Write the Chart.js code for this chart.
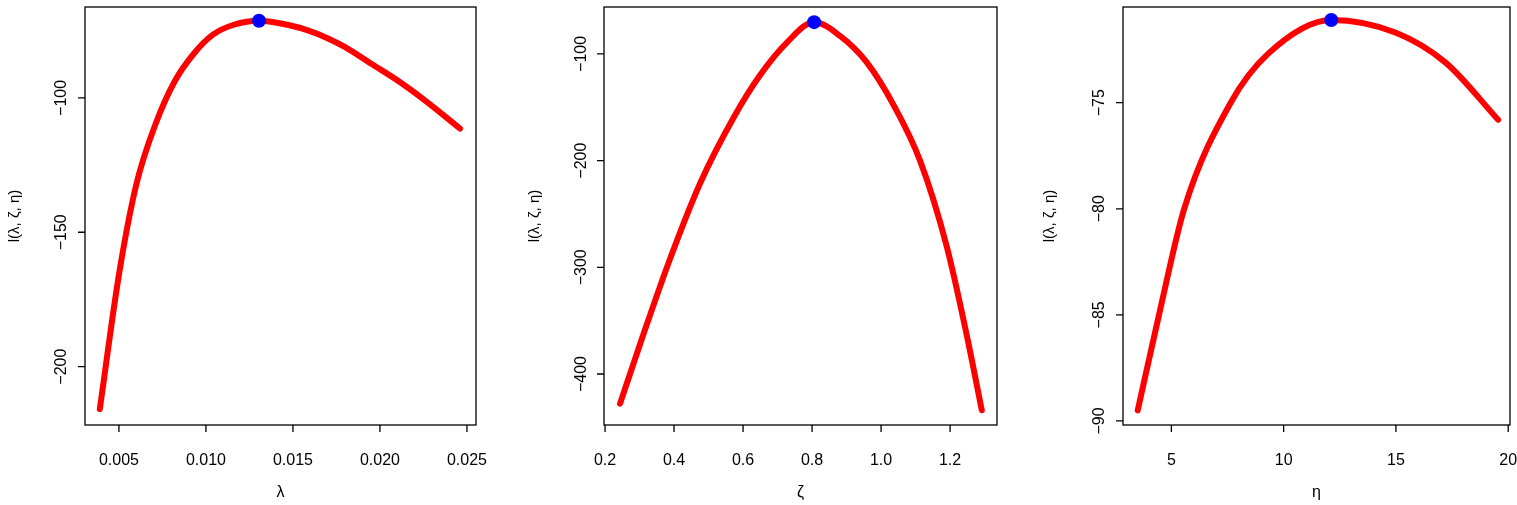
<!DOCTYPE html>
<html><head><script src="https://cdn.jsdelivr.net/npm/chart.js@4"></script>
<style>body{margin:0;background:#fff}canvas{position:absolute;top:0}</style></head>
<body>
<div style="position:absolute;left:0;top:0;width:505px;height:505px"><canvas id="c1"></canvas></div>
<div style="position:absolute;left:505px;top:0;width:520px;height:505px"><canvas id="c2"></canvas></div>
<div style="position:absolute;left:1025px;top:0;width:492px;height:505px"><canvas id="c3"></canvas></div>
<script>
const lambdaX=[0.0039,0.0050,0.0060,0.0071,0.0082,0.0093,0.0104,0.0116,0.01305,0.0148,0.0159,0.01695,0.0180,0.0195,0.0211,0.0226,0.0246];
const lambdaY=[-215.8,-165.8,-132.2,-109.8,-93.9,-83.6,-76.5,-72.8,-71.3,-73.0,-75.0,-77.7,-81.1,-87.3,-93.9,-101,-111.4];
const lambdaMax=[0.01305,-71.3];
const zetaX=[0.2435,0.311,0.388,0.475,0.572,0.649,0.727,0.806,0.881,0.958,1.036,1.113,1.19,1.248,1.292];
const zetaY=[-427.8,-363,-292.4,-221.6,-160,-120,-89.3,-70.2,-83.1,-107.7,-147.7,-200,-280,-363,-434];
const zetaMax=[0.806,-70.2];
const etaX=[3.5,4.47,5.57,7.64,9.3,12.12,15,17.2,19.55];
const etaY=[-89.5,-84.9,-80,-75,-72.7,-71.1,-71.7,-73.1,-75.8];
const etaMax=[12.12,-71.1];
const panels=[
 {id:'c1',xs:lambdaX,ys:lambdaY,mx:lambdaMax,xmin:0.00305,xmax:0.02552,ymin:-221.7,ymax:-66.2,
  xt:[0.005,0.010,0.015,0.020,0.025],xl:['0.005','0.010','0.015','0.020','0.025'],yt:[-200,-150,-100],yl:['−200','−150','−100'],
  xtitle:'λ',pad:{left:85,right:29,top:-3,bottom:80},ylabX:62,ytitX:15},
 {id:'c2',xs:zetaX,ys:zetaY,mx:zetaMax,xmin:0.197,xmax:1.336,ymin:-447.8,ymax:-56,
  xt:[0.2,0.4,0.6,0.8,1.0,1.2],xl:['0.2','0.4','0.6','0.8','1.0','1.2'],yt:[-400,-300,-200,-100],yl:['−400','−300','−200','−100'],
  xtitle:'ζ',pad:{left:99,right:28,top:-3,bottom:80},ylabX:77,ytitX:30},
 {id:'c3',xs:etaX,ys:etaY,mx:etaMax,xmin:2.845,xmax:20.08,ymin:-90.19,ymax:-70.49,
  xt:[5,10,15,20],xl:['5','10','15','20'],yt:[-90,-85,-80,-75],yl:['−90','−85','−80','−75'],
  xtitle:'η',pad:{left:98,right:2,top:-3,bottom:80},ylabX:75,ytitX:25}
];
const F='"Liberation Sans", Arial, sans-serif';
panels.forEach(p=>{
 const deco={id:'deco',afterDraw(ch){
  const c=ch.ctx,a=ch.chartArea,xs=ch.scales.x,ys=ch.scales.y;
  c.save();c.strokeStyle='#000';c.lineWidth=1.3;c.strokeRect(a.left,a.top,a.right-a.left,a.bottom-a.top);
  c.fillStyle='#000';c.font='16px '+F;
  c.beginPath();
  const yb=a.bottom;
  p.xt.forEach(v=>{const x=xs.getPixelForValue(v);c.moveTo(x,yb);c.lineTo(x,yb+7);});
  const xl=a.left;
  p.yt.forEach(v=>{const y=ys.getPixelForValue(v);c.moveTo(xl,y);c.lineTo(xl-7,y);});
  c.stroke();
  c.textAlign='center';c.textBaseline='middle';
  p.xt.forEach((v,i)=>c.fillText(p.xl[i],xs.getPixelForValue(v),461));
  c.fillText(p.xtitle,(a.left+a.right)/2,493);
  p.yt.forEach((v,i)=>{c.save();c.translate(p.ylabX,ys.getPixelForValue(v));c.rotate(-Math.PI/2);c.fillText(p.yl[i],0,0);c.restore();});
  c.save();c.translate(p.ytitX,(a.top+a.bottom)/2);c.rotate(-Math.PI/2);c.font='15px '+F;c.fillText('l(λ, ζ, η)',0,0);c.restore();
  c.restore();}};
 new Chart(document.getElementById(p.id),{type:'scatter',
  data:{datasets:[
   {data:[{x:p.mx[0],y:p.mx[1]}],pointRadius:7,pointBackgroundColor:'#0000ff',pointBorderWidth:0,order:0},
   {data:p.xs.map((x,i)=>({x,y:p.ys[i]})),showLine:true,borderColor:'#ff0000',borderWidth:6,pointRadius:0,cubicInterpolationMode:'monotone',borderCapStyle:'round',order:1}]},
  options:{responsive:true,maintainAspectRatio:false,animation:false,layout:{padding:p.pad},
   plugins:{legend:{display:false},tooltip:{enabled:false}},
   scales:{x:{type:'linear',min:p.xmin,max:p.xmax,display:false},y:{min:p.ymin,max:p.ymax,display:false}}},
  plugins:[deco]});
});
</script></body></html>
